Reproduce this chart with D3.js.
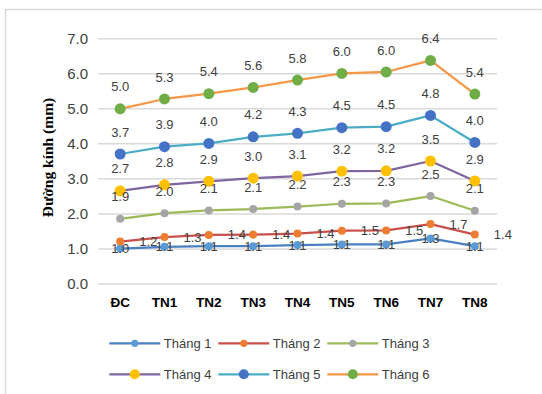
<!DOCTYPE html>
<html>
<head>
<meta charset="utf-8">
<script src="https://cdn.jsdelivr.net/npm/d3@7"></script>
<style>
  html, body { margin: 0; padding: 0; background: #fff; }
  svg { display: block; }
</style>
</head>
<body>
<svg id="chart" width="542" height="394"></svg>
<script>
// Categories along the x axis
const categories = ["ĐC", "TN1", "TN2", "TN3", "TN4", "TN5", "TN6", "TN7", "TN8"];

// Stem diameter (mm) per month
const thang1 = [1.01, 1.06, 1.08, 1.08, 1.11, 1.13, 1.13, 1.30, 1.08];
const thang2 = [1.21, 1.34, 1.40, 1.41, 1.44, 1.52, 1.53, 1.71, 1.41];
const thang3 = [1.86, 2.02, 2.10, 2.14, 2.21, 2.29, 2.30, 2.51, 2.09];
const thang4 = [2.66, 2.83, 2.93, 3.02, 3.08, 3.22, 3.23, 3.51, 2.94];
const thang5 = [3.71, 3.92, 4.01, 4.20, 4.30, 4.46, 4.49, 4.81, 4.04];
const thang6 = [5.00, 5.28, 5.43, 5.61, 5.82, 6.01, 6.05, 6.38, 5.42];

const seriesNames = ["Tháng 1", "Tháng 2", "Tháng 3", "Tháng 4", "Tháng 5", "Tháng 6"];
const yTicks = [0, 1, 2, 3, 4, 5, 6, 7];

const series = [
  { name: seriesNames[0], values: thang1, line: "#4a7fc1", marker: "#5b9bd5", r: 4,   label: "center" },
  { name: seriesNames[1], values: thang2, line: "#c9504b", marker: "#ed7d31", r: 4,   label: "right" },
  { name: seriesNames[2], values: thang3, line: "#9bbb59", marker: "#a5a5a5", r: 4,   label: "above" },
  { name: seriesNames[3], values: thang4, line: "#8064a2", marker: "#ffc000", r: 5.5, label: "above" },
  { name: seriesNames[4], values: thang5, line: "#4bacc6", marker: "#4472c4", r: 5.5, label: "above" },
  { name: seriesNames[5], values: thang6, line: "#f79646", marker: "#70ad47", r: 5.5, label: "above" }
];

const svg = d3.select("#chart");
const font = "'Liberation Sans', Arial, sans-serif";

// Chart frame
svg.append("rect")
  .attr("x", 5.5).attr("y", 9.5)
  .attr("width", 560).attr("height", 400)
  .attr("fill", "none").attr("stroke", "#d9d9d9").attr("stroke-width", 1.5);

const plot = { left: 98, right: 497, top: 38.7, bottom: 284 };

const x = d3.scaleBand().domain(categories).range([plot.left, plot.right]);
const y = d3.scaleLinear().domain([0, 7]).range([plot.bottom, plot.top]);
const cx = c => x(c) + x.bandwidth() / 2;

// Gridlines
svg.append("g")
  .selectAll("line")
  .data(yTicks)
  .join("line")
  .attr("x1", plot.left).attr("x2", plot.right)
  .attr("y1", d => y(d)).attr("y2", d => y(d))
  .attr("stroke", "#d9d9d9").attr("stroke-width", 1.5);

// Y axis tick labels
const yAxis = svg.append("g")
  .attr("transform", `translate(${plot.left},0)`)
  .call(d3.axisLeft(y).tickValues(yTicks).tickFormat(d3.format(".1f")).tickSize(0).tickPadding(10));
yAxis.select(".domain").remove();
yAxis.selectAll("text")
  .attr("font-family", font).attr("font-size", 15).attr("fill", "#404040");

// X axis tick labels
const xAxis = svg.append("g")
  .attr("transform", `translate(0,${plot.bottom})`)
  .call(d3.axisBottom(x).tickSize(0).tickPadding(13));
xAxis.select(".domain").remove();
xAxis.selectAll("text")
  .attr("font-family", font).attr("font-size", 13.5).attr("font-weight", "bold").attr("fill", "#000");

// Y axis title
svg.append("text")
  .attr("transform", "translate(53,157.5) rotate(-90)")
  .attr("text-anchor", "middle")
  .attr("font-family", "'Liberation Serif', 'Times New Roman', serif")
  .attr("font-size", 15.5).attr("font-weight", "bold").attr("fill", "#000")
  .text("Đường kính (mm)");

const lineGen = d3.line()
  .x((d, i) => cx(categories[i]))
  .y(d => y(d));

// Lines and markers
series.forEach(s => {
  const g = svg.append("g");
  g.append("path")
    .datum(s.values)
    .attr("d", lineGen)
    .attr("fill", "none")
    .attr("stroke", s.line).attr("stroke-width", 2.25)
    .attr("stroke-linejoin", "round");
  g.selectAll("circle")
    .data(s.values)
    .join("circle")
    .attr("cx", (d, i) => cx(categories[i]))
    .attr("cy", d => y(d))
    .attr("r", s.r)
    .attr("fill", s.marker);
});

// Data labels
const fmt = d3.format(".1f");
series.forEach(s => {
  svg.append("g")
    .selectAll("text")
    .data(s.values)
    .join("text")
    .attr("x", (d, i) => {
      const px = cx(categories[i]);
      return s.label === "right" ? px + 19 : px;
    })
    .attr("y", d => {
      const py = y(d);
      return s.label === "above" ? py - 22 : py;
    })
    .attr("dy", "0.35em")
    .attr("text-anchor", s.label === "right" ? "start" : "middle")
    .attr("font-family", font).attr("font-size", 13).attr("fill", "#404040")
    .text(d => fmt(d));
});

// Legend
const legendRows = [343.3, 374.3];
const legendCols = [109.3, 218.3, 327.3];
const legend = svg.append("g");
series.forEach((s, i) => {
  const lx = legendCols[i % 3];
  const ly = legendRows[Math.floor(i / 3)];
  const item = legend.append("g").attr("transform", `translate(${lx},${ly})`);
  item.append("line")
    .attr("x1", 0).attr("x2", 51).attr("y1", 0).attr("y2", 0)
    .attr("stroke", s.line).attr("stroke-width", 2.25);
  item.append("circle")
    .attr("cx", 25.5).attr("cy", 0).attr("r", s.r === 4 ? 3.6 : 5)
    .attr("fill", s.marker);
  item.append("text")
    .attr("x", 54.5).attr("y", 0).attr("dy", "0.35em")
    .attr("font-family", font).attr("font-size", 13).attr("fill", "#404040")
    .text(s.name);
});
</script>
</body>
</html>
